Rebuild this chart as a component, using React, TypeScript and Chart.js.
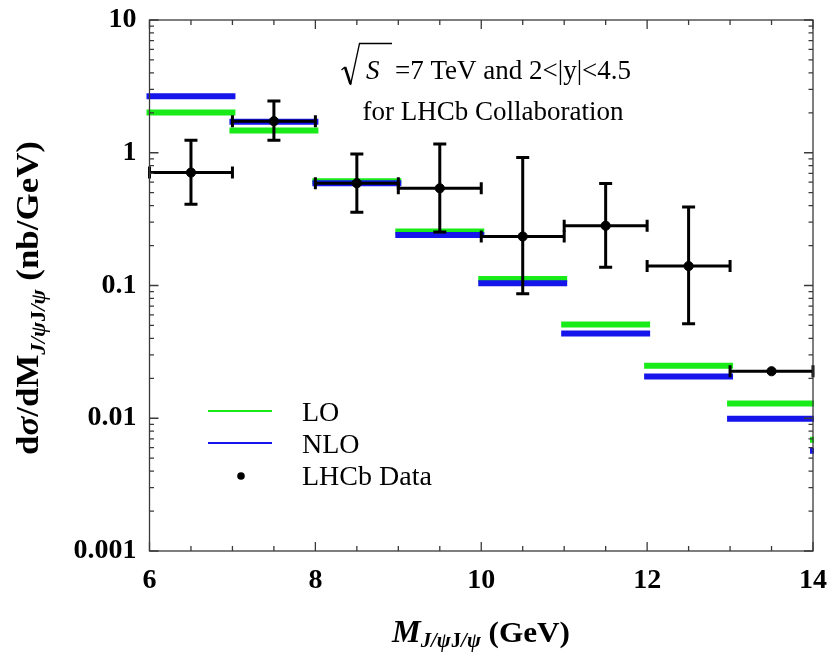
import React, { useEffect, useRef } from "react";
import { Chart, registerables } from "chart.js";

Chart.register(...registerables);

// ---- data ----
const binEdges = [6, 7, 8, 9, 10, 11, 12, 13, 14, 15];
const loValues = [2.01, 1.47, 0.61, 0.255, 0.112, 0.0508, 0.0249, 0.0129, 0.0069];
const nloValues = [2.67, 1.71, 0.589, 0.24, 0.104, 0.0434, 0.0206, 0.0099, 0.0057];

const dataX = [6.5, 7.5, 8.5, 9.5, 10.5, 11.5, 12.5, 13.5];
const dataY = [0.709, 1.73, 0.59, 0.54, 0.234, 0.282, 0.14, 0.0226];
const dataHi = [1.24, 2.45, 0.98, 1.165, 0.92, 0.586, 0.39, 0.0226];
const dataLo = [0.409, 1.24, 0.356, 0.2525, 0.0865, 0.137, 0.0514, 0.0226];
const dataXErr = [0.5, 0.5, 0.5, 0.5, 0.5, 0.5, 0.5, 0.5];

const xMin = 6;
const xMax = 14;
const xStep = 2;
const yTickValues = [0.001, 0.01, 0.1, 1, 10];
const yTickLabels = ["0.001", "0.01", "0.1", "1", "10"];
const legendLabels = ["LO", "NLO", "LHCb Data"];
const noteLine1 = "=7 TeV and 2<|y|<4.5";
const noteLine2 = "for LHCb Collaboration";

const GREEN = "rgb(25,235,25)";
const BLUE = "rgb(20,20,235)";
const SERIF = "'Liberation Serif', 'Times New Roman', serif";

function steps(vals: number[]) {
  const out: { x: number; y: number | null }[] = [];
  vals.forEach((v, i) => {
    out.push({ x: binEdges[i], y: v }, { x: binEdges[i + 1], y: v });
    if (i < vals.length - 1) out.push({ x: binEdges[i + 1], y: null });
  });
  return out;
}

type Run = { t: string; f: string; dy?: number };
function drawRuns(ctx: CanvasRenderingContext2D, runs: Run[], cx: number, y: number, target?: number) {
  let total = 0;
  runs.forEach((r) => {
    ctx.font = r.f;
    total += ctx.measureText(r.t).width;
  });
  const sx = target ? target / total : 1;
  ctx.save();
  ctx.translate(cx, y);
  ctx.scale(sx, 1);
  let x = -total / 2;
  ctx.textAlign = "left";
  ctx.textBaseline = "alphabetic";
  runs.forEach((r) => {
    ctx.font = r.f;
    ctx.fillText(r.t, x, r.dy || 0);
    x += ctx.measureText(r.t).width;
  });
  ctx.restore();
}

const errorBarPlugin = {
  id: "errbars",
  beforeDatasetDraw(chart: any, args: any) {
    if (args.index !== 0) return;
    const { ctx } = chart;
    const xs = chart.scales.x;
    const ys = chart.scales.y;
    ctx.save();
    ctx.strokeStyle = "#000";
    ctx.lineWidth = 3;
    ctx.lineCap = "butt";
    dataX.forEach((x, i) => {
      const px = xs.getPixelForValue(x);
      const py = ys.getPixelForValue(dataY[i]);
      const x0 = xs.getPixelForValue(x - dataXErr[i]);
      const x1 = xs.getPixelForValue(x + dataXErr[i]);
      const yh = ys.getPixelForValue(dataHi[i]);
      const yl = ys.getPixelForValue(dataLo[i]);
      ctx.beginPath();
      ctx.moveTo(x0, py);
      ctx.lineTo(x1, py);
      ctx.moveTo(x0, py - 6);
      ctx.lineTo(x0, py + 6);
      ctx.moveTo(x1, py - 6);
      ctx.lineTo(x1, py + 6);
      if (yh < py - 1 || yl > py + 1) {
        ctx.moveTo(px, yh);
        ctx.lineTo(px, yl);
        ctx.moveTo(px - 6.5, yh);
        ctx.lineTo(px + 6.5, yh);
        ctx.moveTo(px - 6.5, yl);
        ctx.lineTo(px + 6.5, yl);
      }
      ctx.stroke();
    });
    ctx.restore();
  },
};

const framePlugin = {
  id: "frame",
  afterDatasetsDraw(chart: any) {
    const { ctx, chartArea } = chart;
    const { left, right, top, bottom } = chartArea;
    const xs = chart.scales.x;
    const ys = chart.scales.y;
    ctx.save();
    ctx.strokeStyle = "#3a3a3a";
    ctx.lineWidth = 1.3;
    ctx.strokeRect(left, top, right - left, bottom - top);
    ctx.beginPath();
    for (let v = xMin; v <= xMax + 1e-6; v += 0.5) {
      const px = xs.getPixelForValue(v);
      const major = Math.abs((v - xMin) % xStep) < 1e-6;
      const L = major ? 9 : 5;
      ctx.moveTo(px, bottom);
      ctx.lineTo(px, bottom - L);
      ctx.moveTo(px, top);
      ctx.lineTo(px, top + L);
    }
    for (let d = -3; d <= 1; d++) {
      const base = Math.pow(10, d);
      const ks = d < 1 ? [1, 2, 3, 4, 5, 6, 7, 8, 9] : [1];
      ks.forEach((k) => {
        const py = ys.getPixelForValue(k * base);
        const L = k === 1 ? 9 : 4.5;
        ctx.moveTo(left, py);
        ctx.lineTo(left + L, py);
        ctx.moveTo(right, py);
        ctx.lineTo(right - L, py);
      });
    }
    ctx.stroke();
    ctx.restore();
  },
};

const annotationPlugin = {
  id: "annot",
  afterDraw(chart: any) {
    const { ctx } = chart;
    ctx.save();
    ctx.fillStyle = "#000";
    ctx.strokeStyle = "#000";

    // legend
    ctx.lineWidth = 2;
    ctx.strokeStyle = GREEN;
    ctx.beginPath();
    ctx.moveTo(208, 411);
    ctx.lineTo(272, 411);
    ctx.stroke();
    ctx.strokeStyle = BLUE;
    ctx.beginPath();
    ctx.moveTo(208, 443);
    ctx.lineTo(272, 443);
    ctx.stroke();
    ctx.fillStyle = "#000";
    ctx.beginPath();
    ctx.arc(241, 476, 3.8, 0, Math.PI * 2);
    ctx.fill();
    ctx.font = `28px ${SERIF}`;
    ctx.textAlign = "left";
    ctx.textBaseline = "alphabetic";
    ctx.fillText(legendLabels[0], 302, 421);
    ctx.fillText(legendLabels[1], 302, 453);
    ctx.fillText(legendLabels[2], 302, 485);

    // note: sqrt(S)
    ctx.strokeStyle = "#000";
    ctx.lineCap = "butt";
    ctx.lineJoin = "miter";
    ctx.lineWidth = 1.3;
    ctx.beginPath();
    ctx.moveTo(341.5, 70);
    ctx.lineTo(345, 67);
    ctx.stroke();
    ctx.lineWidth = 2.6;
    ctx.beginPath();
    ctx.moveTo(345, 67);
    ctx.lineTo(350.5, 84);
    ctx.stroke();
    ctx.lineWidth = 1.3;
    ctx.beginPath();
    ctx.moveTo(350.5, 85);
    ctx.lineTo(359.5, 43.5);
    ctx.lineTo(392, 43.5);
    ctx.stroke();
    ctx.font = `italic 27px ${SERIF}`;
    ctx.fillText("S", 366, 79);
    ctx.font = `27px ${SERIF}`;
    ctx.fillText(noteLine1, 395, 79);
    ctx.textAlign = "center";
    ctx.fillText(noteLine2, 493, 120);

    // x title
    drawRuns(
      ctx,
      [
        { t: "M", f: `bold italic 31px ${SERIF}` },
        { t: "J/ψ", f: `bold italic 20px ${SERIF}`, dy: 5 },
        { t: "J", f: `bold 20px ${SERIF}`, dy: 5 },
        { t: "/ψ", f: `bold italic 20px ${SERIF}`, dy: 5 },
        { t: " (GeV)", f: `bold 30px ${SERIF}` },
      ],
      481,
      642,
      178
    );

    // y title
    ctx.save();
    ctx.translate(38, 298);
    ctx.rotate(-Math.PI / 2);
    drawRuns(
      ctx,
      [
        { t: "d", f: `bold 31px ${SERIF}` },
        { t: "σ", f: `bold italic 31px ${SERIF}` },
        { t: "/dM", f: `bold 31px ${SERIF}` },
        { t: "J/ψ", f: `bold italic 20px ${SERIF}`, dy: 7 },
        { t: "J", f: `bold 20px ${SERIF}`, dy: 7 },
        { t: "/ψ", f: `bold italic 20px ${SERIF}`, dy: 7 },
        { t: " (nb/GeV)", f: `bold 31px ${SERIF}` },
      ],
      0,
      0,
      314
    );
    ctx.restore();

    ctx.restore();
  },
};

export default function App() {
  const ref = useRef<HTMLCanvasElement | null>(null);
  useEffect(() => {
    if (!ref.current) return;
    const lineClip = { left: 5, top: 5, right: 1, bottom: 5 };
    const chart = new Chart(ref.current, {
      type: "line",
      data: {
        datasets: [
          {
            type: "scatter",
            label: legendLabels[2],
            data: dataX.map((x, i) => ({ x, y: dataY[i] })),
            backgroundColor: "#000",
            borderColor: "#000",
            pointRadius: 4.6,
            pointHoverRadius: 4.6,
            showLine: false,
            clip: 8,
          } as any,
          {
            type: "line",
            label: legendLabels[1],
            data: steps(nloValues),
            borderColor: BLUE,
            borderWidth: 6,
            borderCapStyle: "square",
            pointRadius: 0,
            spanGaps: false,
            tension: 0,
            fill: false,
            clip: lineClip,
          } as any,
          {
            type: "line",
            label: legendLabels[0],
            data: steps(loValues),
            borderColor: GREEN,
            borderWidth: 6,
            borderCapStyle: "square",
            pointRadius: 0,
            spanGaps: false,
            tension: 0,
            fill: false,
            clip: lineClip,
          } as any,
        ],
      },
      options: {
        animation: false,
        responsive: false,
        devicePixelRatio: 1,
        layout: { padding: { top: 20, right: 16, left: 0, bottom: 0 } },
        plugins: { legend: { display: false }, tooltip: { enabled: false } },
        scales: {
          x: {
            type: "linear",
            min: xMin,
            max: xMax,
            grid: { display: false, drawTicks: false },
            border: { display: false },
            ticks: {
              stepSize: xStep,
              autoSkip: false,
              maxRotation: 0,
              padding: 13,
              color: "#000",
              font: { family: SERIF, size: 28, weight: "bold" },
            },
            afterFit: (s: any) => {
              s.height = 102;
              s.paddingLeft = 0;
              s.paddingRight = 0;
            },
          },
          y: {
            type: "logarithmic",
            min: yTickValues[0],
            max: yTickValues[yTickValues.length - 1],
            grid: { display: false, drawTicks: false },
            border: { display: false },
            afterBuildTicks: (s: any) => {
              s.ticks = yTickValues.map((v) => ({ value: v }));
            },
            ticks: {
              autoSkip: false,
              padding: 13,
              color: "#000",
              font: { family: SERIF, size: 28, weight: "bold" },
              callback: (v: any) => {
                const i = yTickValues.findIndex((t) => Math.abs(t - Number(v)) / t < 1e-6);
                return i >= 0 ? yTickLabels[i] : "";
              },
            },
            afterFit: (s: any) => {
              s.width = 149.5;
              s.paddingTop = 0;
              s.paddingBottom = 0;
            },
          },
        },
      } as any,
      plugins: [errorBarPlugin, framePlugin, annotationPlugin],
    });
    return () => chart.destroy();
  }, []);
  return (
    <div style={{ position: "absolute", left: 0, top: 0, width: 829, height: 653, background: "#fff" }}>
      <canvas ref={ref} width={829} height={653} style={{ display: "block" }} />
    </div>
  );
}
